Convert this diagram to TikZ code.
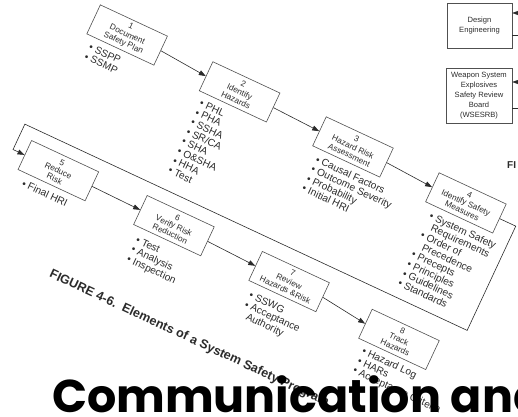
\documentclass[tikz,border=0pt]{standalone}
\usepackage{fontspec}
\setmainfont{Liberation Sans}
\newfontfamily\bigfont{Poppins}
\usetikzlibrary{arrows.meta,calc}
\definecolor{ink}{HTML}{2B2B2B}
\definecolor{edge}{HTML}{505050}
\begin{document}
\begin{tikzpicture}[x=1pt,y=-1pt,
  stepbox/.style={draw=edge, line width=0.6pt, minimum width=74pt, minimum height=32pt,
    inner sep=1pt, align=center, font=\fontsize{8.3}{9}\selectfont, text=ink},
  blist/.style={anchor=north west, inner sep=0pt, align=left,
    font=\fontsize{10.2}{10.6}\selectfont, text=ink},
  flow/.style={draw=ink, line width=0.6pt, -{Triangle[length=7pt,width=5pt]}},
  plain/.style={draw=ink, line width=0.6pt},
  sidebox/.style={draw=edge, line width=0.6pt, inner sep=1pt, align=center,
    font=\fontsize{7.6}{10}\selectfont, text=ink},
  caption/.style={font=\bfseries\fontsize{12.6}{14}\selectfont, text=ink, inner sep=0pt}]
\useasboundingbox (0,0) rectangle (518,416);
\clip (0,0) rectangle (518,416);

\begin{scope}[rotate=-25, transform shape]
  % boxes, row 1
  \node[stepbox] (b1) at (130,-22) {1\\Document\\Safety Plan};
  \node[stepbox] (b2) at (256,-18) {2\\Identify\\Hazards};
  \node[stepbox] (b3) at (382,-16) {3\\Hazard Risk\\Assessment};
  \node[stepbox] (b4) at (508,-13) {4\\Identify Safety\\Measures};
  % boxes, row 2
  \node[stepbox] (b5) at (125,130) {5\\Reduce\\Risk};
  \node[stepbox] (b6) at (253,131) {6\\Verify Risk\\Reduction};
  \node[stepbox] (b7) at (381,133) {7\\Review\\Hazards \&Risk};
  \node[stepbox] (b8) at (505,139) {8\\Track\\Hazards};

  % bullet lists
  \node[blist] (l1) at ([shift={(8,6)}]b1.south west) {\textbullet\ SSPP\\\textbullet\ SSMP};
  \node[blist] (l2) at ([shift={(6,6)}]b2.south west) {\textbullet\ PHL\\\textbullet\ PHA\\\textbullet\ SSHA\\\textbullet\ SR/CA\\\textbullet\ SHA\\\textbullet\ O\&SHA\\\textbullet\ HHA\\\textbullet\ Test};
  \node[blist] (l3) at ([shift={(9,6)}]b3.south west) {\textbullet\ Causal Factors\\\textbullet\ Outcome Severity\\\textbullet\ Probability\\\textbullet\ Initial HRI};
  \node[blist] (l4) at ([shift={(10,6)}]b4.south west) {\textbullet\ System Safety\\\phantom{\textbullet\ }Requirements\\\textbullet\ Order of\\\phantom{\textbullet\ }Precedence\\\textbullet\ Precepts\\\textbullet\ Principles\\\textbullet\ Guidelines\\\textbullet\ Standards};
  \node[blist] (l5) at ([shift={(10,6)}]b5.south west) {\textbullet\ Final HRI};
  \node[blist] (l6) at ([shift={(9,8)}]b6.south west) {\textbullet\ Test\\\textbullet\ Analysis\\\textbullet\ Inspection};
  \node[blist] (l7) at ([shift={(7,8)}]b7.south west) {\textbullet\ SSWG\\\textbullet\ Acceptance\\\phantom{\textbullet\ }Authority};
  \node[blist] (l8) at ([shift={(9,5)}]b8.south west) {\textbullet\ Hazard Log\\\textbullet\ HARs\\\textbullet\ Acceptance Criteria};

  % connectors
  \draw[flow] (b1.east) -- (b2.west);
  \draw[flow] (b2.east) -- (b3.west);
  \draw[flow] (b3.east) -- (b4.west);
  \draw[flow] (b5.east) -- (b6.west);
  \draw[flow] (b6.east) -- (b7.west);
  \draw[flow] (b7.east) -- (b8.west);

  \coordinate (lp1) at (563,-13);
  \coordinate (lp2) at (563,102);
  \coordinate (lp3) at (75,102);
  \coordinate (lp4) at (75,130);
  \draw[flow] (b4.east) -- (lp1) -- (lp2) -- (lp3) -- (lp4) -- (b5.west);

  % caption
  \node[caption, anchor=west] (cap) at (161,227) {FIGURE 4-6.\ \ Elements of a System Safety Program};
\end{scope}

% right-hand boxes of the other figure
\node[sidebox, minimum width=65pt, minimum height=45pt] (de) at (479.5,25.5) {Design\\Engineering};
\node[sidebox, minimum width=66pt, minimum height=55pt] (ws) at (479,95.5) {Weapon System\\Explosives\\Safety Review\\Board\\(WSESRB)};
\coordinate (dein) at (530,13);
\coordinate (deout) at (530,35);
\coordinate (wsin) at (530,82);
\coordinate (wsout) at (530,108);
\draw[flow] (dein) -- (de.east |- dein);
\draw[plain] (de.east |- deout) -- (deout);
\draw[flow] (wsin) -- (ws.east |- wsin);
\draw[plain] (ws.east |- wsout) -- (wsout);
\node[font=\bfseries\fontsize{10}{12}\selectfont, text=ink, anchor=base west, inner sep=0pt] (fi) at (507,168) {FI};

% slide title
\node[font=\bigfont\bfseries\fontsize{46}{50}\selectfont, anchor=base west, inner sep=0pt] (title) at (52,412) {Communication and};
\end{tikzpicture}
\end{document}
